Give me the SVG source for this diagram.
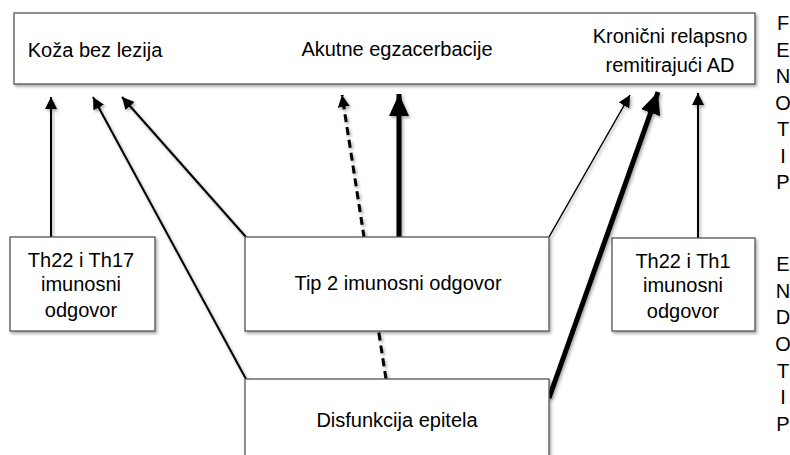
<svg xmlns="http://www.w3.org/2000/svg" width="790" height="455" viewBox="0 0 790 455">
<style>
.box{fill:#fff;stroke:#555;stroke-width:1.3;filter:url(#sh)}
.t{font-family:"Liberation Sans",Arial,sans-serif;font-size:20px;fill:#000;text-anchor:middle}
.c{fill:none;stroke:#000}
</style>
<defs>
<filter id="sh" x="-10%" y="-10%" width="120%" height="130%">
<feDropShadow dx="1.5" dy="2" stdDeviation="1.5" flood-color="#000" flood-opacity="0.35"/>
</filter>
<marker id="a" markerUnits="userSpaceOnUse" markerWidth="14" markerHeight="12" refX="12" refY="6" orient="auto">
<path d="M0,0 L12,6 L0,12 Z" fill="#000"/>
</marker>
<marker id="A" markerUnits="userSpaceOnUse" markerWidth="24" markerHeight="20" refX="22" refY="10" orient="auto">
<path d="M0,0 L22,10 L0,20 Z" fill="#000"/>
</marker>
</defs>
<g id="connectors" filter="url(#sh)">
<line class="c" x1="51" y1="237" x2="51" y2="97" stroke-width="2" marker-end="url(#a)"/>
<line class="c" x1="246" y1="379" x2="93" y2="97" stroke-width="2" marker-end="url(#a)"/>
<line class="c" x1="246" y1="237" x2="122" y2="97" stroke-width="2" marker-end="url(#a)"/>
<line class="c" x1="386" y1="379" x2="342" y2="95" stroke-width="3" stroke-dasharray="8,5" marker-end="url(#a)"/>
<line class="c" x1="399" y1="237" x2="399" y2="94" stroke-width="5" marker-end="url(#A)"/>
<line class="c" x1="549" y1="237" x2="630" y2="95" stroke-width="1.5" marker-end="url(#a)"/>
<line class="c" x1="549" y1="398" x2="658" y2="92" stroke-width="5" marker-end="url(#A)"/>
<line class="c" x1="698" y1="238" x2="698" y2="93" stroke-width="2" marker-end="url(#a)"/>
</g>
<g id="fenotip">
<rect class="box" x="14" y="13" width="741" height="71"/>
<text class="t" x="95" y="57">Koža bez lezija</text>
<text class="t" x="397" y="56">Akutne egzacerbacije</text>
<text class="t" x="670" y="43">Kronični relapsno</text>
<text class="t" x="670" y="72">remitirajući AD</text>
</g>
<g id="th17">
<rect class="box" x="10" y="237" width="145" height="94"/>
<text class="t" x="81" y="267">Th22 i Th17</text>
<text class="t" x="81" y="291">imunosni</text>
<text class="t" x="81" y="317">odgovor</text>
</g>
<g id="tip2">
<rect class="box" x="245" y="237" width="304" height="94"/>
<text class="t" x="398" y="290">Tip 2 imunosni odgovor</text>
</g>
<g id="th1">
<rect class="box" x="612" y="238" width="143" height="93"/>
<text class="t" x="683" y="268">Th22 i Th1</text>
<text class="t" x="683" y="292">imunosni</text>
<text class="t" x="683" y="318">odgovor</text>
</g>
<g id="epitel">
<rect class="box" x="245" y="379" width="304" height="90"/>
<text class="t" x="397" y="427">Disfunkcija epitela</text>
</g>
<g id="labels">
<text class="t" x="783" y="30">F</text>
<text class="t" x="783" y="57">E</text>
<text class="t" x="783" y="83">N</text>
<text class="t" x="783" y="110">O</text>
<text class="t" x="783" y="136">T</text>
<text class="t" x="783" y="163">I</text>
<text class="t" x="783" y="189">P</text>
<text class="t" x="783" y="271">E</text>
<text class="t" x="783" y="298">N</text>
<text class="t" x="783" y="324">D</text>
<text class="t" x="783" y="351">O</text>
<text class="t" x="783" y="378">T</text>
<text class="t" x="783" y="404">I</text>
<text class="t" x="783" y="431">P</text>
</g>
</svg>
